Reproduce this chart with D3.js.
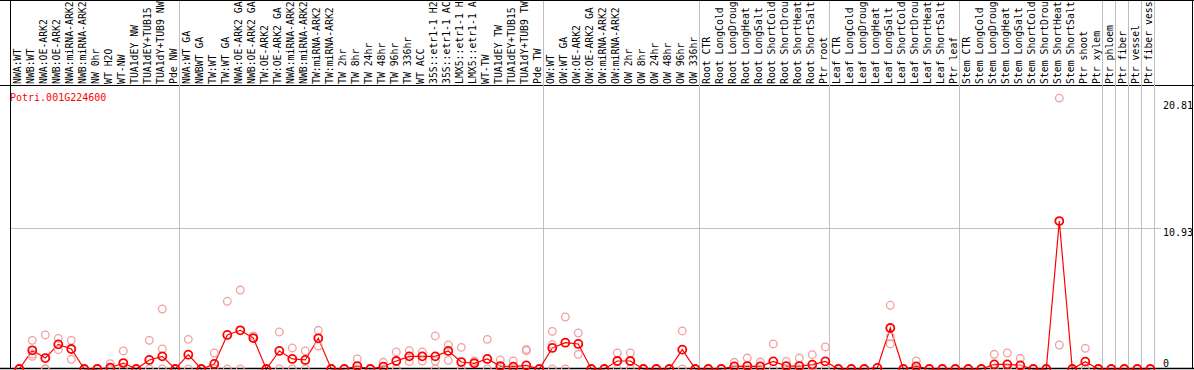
<!doctype html>
<html>
<head>
<meta charset="utf-8">
<script src="https://cdnjs.cloudflare.com/ajax/libs/d3/7.8.5/d3.min.js"></script>
<style>
  body { margin: 0; background: #fff; }
  svg { display: block; }
  text { font-family: "DejaVu Sans Mono", monospace; font-size: 10px; }
</style>
</head>
<body>
<svg id="chart" width="1194" height="370"></svg>
<script>
var geneName = "Potri.001G224600";

var samples = [
  "NWA:WT", "NWB:WT", "NWA:OE-ARK2", "NWB:OE-ARK2", "NWA:miRNA-ARK2", "NWB:miRNA-ARK2",
  "NW 0hr", "WT H2O", "WT-NW", "TUA1dEY NW", "TUA1dEY+TUB15 NW", "TUA1dY+TUB9 NW", "Pde NW",
  "NWA:WT GA", "NWBWT GA", "TW:WT", "TW:WT GA", "NWA:OE-ARK2 GA", "NWB:OE-ARK2 GA",
  "TW:OE-ARK2", "TW:OE-ARK2 GA", "NWA:miRNA-ARK2 GA", "NWB:miRNA-ARK2 GA", "TW:miRNA-ARK2",
  "TW:miRNA-ARK2 GA", "TW 2hr", "TW 8hr", "TW 24hr", "TW 48hr", "TW 96hr", "TW 336hr",
  "WT ACC", "35S::etr1-1 H2O", "35S::etr1-1 ACC", "LMX5::etr1-1 H2O", "LMX5::etr1-1 ACC",
  "WT-TW", "TUA1dEY TW", "TUA1dEY+TUB15 TW", "TUA1dY+TUB9 TW", "Pde TW",
  "OW:WT", "OW:WT GA", "OW:OE-ARK2", "OW:OE-ARK2 GA", "OW:miRNA-ARK2", "OW:miRNA-ARK2 GA",
  "OW 2hr", "OW 8hr", "OW 24hr", "OW 48hr", "OW 96hr", "OW 336hr",
  "Root CTR", "Root LongCold", "Root LongDrought", "Root LongHeat", "Root LongSalt",
  "Root ShortCold", "Root ShortDrought", "Root ShortHeat", "Root ShortSalt", "Ptr root",
  "Leaf CTR", "Leaf LongCold", "Leaf LongDrought", "Leaf LongHeat", "Leaf LongSalt",
  "Leaf ShortCold", "Leaf ShortDrought", "Leaf ShortHeat", "Leaf ShortSalt", "Ptr leaf",
  "Stem CTR", "Stem LongCold", "Stem LongDrought", "Stem LongHeat", "Stem LongSalt",
  "Stem ShortCold", "Stem ShortDrought", "Stem ShortHeat", "Stem ShortSalt", "Ptr shoot",
  "Ptr xylem", "Ptr phloem", "Ptr fiber", "Ptr vessel", "Ptr fiber vessel"
];

// mean expression per sample
var means = [
  0, 1.45, 0.85, 1.91, 1.55, 0, 0, 0.1, 0.46, 0, 0.70, 0.98, 0,
  1.11, 0, 0.39, 2.64, 3.0, 2.40, 0, 1.40, 0.78, 0.70, 2.38, 0, 0, 0.23, 0, 0.18,
  0.62, 0.98, 0.98, 0.98, 1.40, 0.54, 0.44, 0.78, 0.23, 0.18, 0.28, 0,
  1.63, 2.04, 1.94, 0, 0, 0.62, 0.62, 0, 0, 0, 1.50, 0,
  0, 0, 0.2, 0.23, 0.2, 0.59, 0.23, 0.23, 0.34, 0.59,
  0, 0, 0, 0.08, 3.18, 0, 0.2, 0, 0, 0,
  0, 0, 0.36, 0.36, 0.28, 0, 0, 11.47, 0, 0.57, 0,
  0, 0, 0, 0
];

// replicate values per sample
var replicates = [
  [0, 0], [2.22, 0.98, 1.15], [2.64, 0, 0], [2.37, 1.5], [2.22, 0.75], [], [],
  [0.41, 0], [1.4, 0], [], [2.22, 0], [4.65, 1.55, 0], [],
  [2.3, 0], [], [1.24, 0], [5.25, 0], [6.12, 0], [2.56, 2.38], [], [2.87, 0],
  [1.63, 0], [1.4, 0], [3.0, 1.78], [], [], [0.78, 0], [], [0.52, 0],
  [1.32, 0], [1.42, 0.57], [1.32, 0.62], [2.56, 0.62, 0], [1.86, 0.67], [1.68, 0],
  [0.62, 0.52], [2.3, 0], [0.7, 0], [0.62, 0], [1.52, 1.42], [],
  [2.92, 1.89, 0], [4.03, 0], [2.79, 1.14], [], [], [1.24, 0], [1.24, 0], [], [], [],
  [2.95, 0], [],
  [], [], [0.52, 0], [0.85, 0], [0.54, 0], [1.94, 0], [0.59, 0], [0.85, 0], [1.11, 0], [1.71, 0],
  [], [], [], [], [4.94, 2.5, 1.94], [], [0.62, 0], [], [], [],
  [], [], [1.14, 0], [1.24, 0], [0.83, 0], [], [], [21.0, 1.86], [], [1.6, 0], [],
  [], [], [], []
];

// column index where a new tissue group starts
var groupBreaks = [13, 41, 53, 63, 73, 84, 85, 86, 87, 88];
var yTicks = [0, 10.93, 20.81];

var svg = d3.select("#chart");
var idx = d3.range(samples.length);

var x = d3.scaleBand().domain(idx).range([11, 11 + 13 * samples.length]);
var y = d3.scaleLinear().domain([0, 10.93]).range([369, 228]);

// frame
svg.append("line").attr("x1", 10.5).attr("x2", 10.5).attr("y1", 0).attr("y2", 369)
  .attr("stroke", "#000");
svg.append("line").attr("x1", 1192.5).attr("x2", 1192.5).attr("y1", 0).attr("y2", 369)
  .attr("stroke", "#000");
svg.append("line").attr("x1", 0).attr("x2", 1194).attr("y1", 0.5).attr("y2", 0.5)
  .attr("stroke", "#000");
svg.append("line").attr("x1", 0).attr("x2", 1194).attr("y1", 85.5).attr("y2", 85.5)
  .attr("stroke", "#000");

// group separators
svg.selectAll("line.sep")
  .data(groupBreaks)
  .enter()
  .append("line")
    .attr("class", "sep")
    .attr("x1", d => (d < samples.length ? x(d) : x(d - 1) + x.bandwidth()) - 0.5)
    .attr("x2", d => (d < samples.length ? x(d) : x(d - 1) + x.bandwidth()) - 0.5)
    .attr("y1", 1)
    .attr("y2", 369)
    .attr("stroke", "#c0c0c0");

// middle gridline
svg.append("line")
  .attr("x1", 11).attr("x2", 1161)
  .attr("y1", Math.round(y(yTicks[1])) + 0.5).attr("y2", Math.round(y(yTicks[1])) + 0.5)
  .attr("stroke", "#c0c0c0");

// sample labels, cut to the 14 characters the header has room for
svg.selectAll("text.sample")
  .data(idx)
  .enter()
  .append("text")
    .attr("class", "sample")
    .attr("transform", d => "translate(" + (x(d) + 10) + ",84) rotate(-90)")
    .style("font-size", "9.8px")
    .text(d => samples[d].slice(0, 14).trim());

// mean line
var line = d3.line()
  .x(d => x(d) + 8.3)
  .y(d => y(means[d]));

svg.append("path")
  .attr("d", line(idx))
  .attr("fill", "none")
  .attr("stroke", "#ff0000")
  .attr("stroke-width", 1.2);

// bottom axis line
svg.append("line").attr("x1", 0).attr("x2", 1194).attr("y1", 368.5).attr("y2", 368.5)
  .attr("stroke", "#000").attr("stroke-width", 1.5);

// replicates
var reps = [];
replicates.forEach((r, i) => r.forEach(v => reps.push({ i: i, v: v })));

svg.selectAll("circle.rep")
  .data(reps)
  .enter()
  .append("circle")
    .attr("class", "rep")
    .attr("cx", d => x(d.i) + 8.3)
    .attr("cy", d => y(d.v))
    .attr("r", 3.8)
    .attr("fill", "none")
    .attr("stroke", "#f0a0a0")
    .attr("stroke-width", 1.3);

// means
svg.selectAll("circle.mean")
  .data(idx)
  .enter()
  .append("circle")
    .attr("class", "mean")
    .attr("cx", d => x(d) + 8.3)
    .attr("cy", d => y(means[d]))
    .attr("r", 4)
    .attr("fill", "none")
    .attr("stroke", "#ff0000")
    .attr("stroke-width", 1.8);

// value labels on the right
var yAxis = d3.axisRight(y).tickValues(yTicks).tickSize(0).tickFormat(d => d === 0 ? "0" : d3.format(".2f")(d));
var gy = svg.append("g").attr("transform", "translate(1163,0)").call(yAxis);
gy.select(".domain").remove();
gy.selectAll("text")
  .attr("x", 0)
  .attr("text-anchor", "start")
  .attr("fill", "#000")
  .style("font-family", '"DejaVu Sans Mono", monospace')
  .style("font-size", "10px")
  .attr("dy", d => d === 0 ? "-0.3em" : "0.75em");

// gene title
svg.append("text")
  .attr("x", 10)
  .attr("y", 101)
  .attr("fill", "#ff0000")
  .text(geneName);
</script>
</body>
</html>
